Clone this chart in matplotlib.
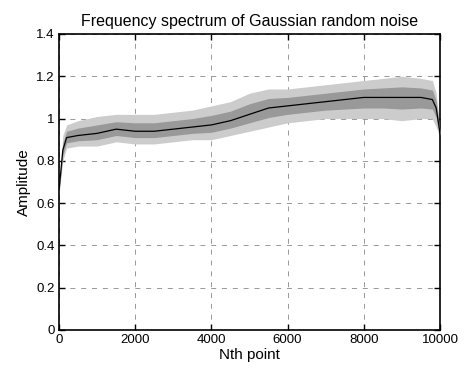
import matplotlib
matplotlib.use("Agg")
import matplotlib.pyplot as plt

# Envelope of the noisy spectrum
x_pts = [0, 100, 200, 500, 1000, 1500, 2000, 2500, 3000, 3500, 4000, 4500, 5000,
         5500, 6000, 6500, 7000, 7500, 8000, 8500, 9000, 9500, 9800, 9900, 10000]
mean_amp = [0.66, 0.85, 0.91, 0.92, 0.93, 0.95, 0.94, 0.94, 0.95, 0.96, 0.97, 0.99, 1.02,
            1.05, 1.06, 1.07, 1.08, 1.09, 1.10, 1.10, 1.10, 1.10, 1.09, 1.05, 0.93]
low_amp = [0.64, 0.80, 0.86, 0.87, 0.87, 0.89, 0.88, 0.88, 0.89, 0.90, 0.90, 0.92, 0.94,
           0.96, 0.98, 0.99, 1.00, 1.00, 1.00, 1.00, 0.99, 1.00, 1.00, 0.96, 0.91]
high_amp = [0.68, 0.92, 0.97, 0.99, 1.01, 1.02, 1.02, 1.02, 1.03, 1.04, 1.06, 1.08, 1.12,
            1.14, 1.14, 1.15, 1.16, 1.17, 1.18, 1.19, 1.20, 1.19, 1.18, 1.12, 0.95]

x_ticks = [0, 2000, 4000, 6000, 8000, 10000]
y_ticks = [0, 0.2, 0.4, 0.6, 0.8, 1, 1.2, 1.4]
y_ticklabels = ["0", "0.2", "0.4", "0.6", "0.8", "1", "1.2", "1.4"]

plt.rcParams['font.family'] = ['Liberation Sans', 'DejaVu Sans']

fig = plt.figure(figsize=(4.69, 3.74), dpi=100)
ax = fig.add_axes([59/469, 1 - 330/374, (440-59)/469, (330-34)/374])

ax.fill_between(x_pts, low_amp, high_amp, color='#cccccc', lw=0, zorder=2)
mid_low = [(m + l) / 2 for m, l in zip(mean_amp, low_amp)]
mid_high = [(m + h) / 2 for m, h in zip(mean_amp, high_amp)]
ax.fill_between(x_pts, mid_low, mid_high, color='#999999', lw=0, zorder=3)
ax.plot(x_pts, mean_amp, color='black', lw=0.9, zorder=4)

ax.set_xlim(0, 10000)
ax.set_ylim(0, 1.4)
ax.set_xticks(x_ticks)
ax.set_xticklabels([str(t) for t in x_ticks])
ax.set_yticks(y_ticks)
ax.set_yticklabels(y_ticklabels)
ax.tick_params(direction='in', length=4, width=1, labelsize=9.5, top=True, right=True,
               pad=3)
ax.grid(True, color='#888888', linestyle=(0, (6, 7)), lw=0.6, zorder=1)
for s in ax.spines.values():
    s.set_linewidth(1.2)

ax.set_title("Frequency spectrum of Gaussian random noise", fontsize=11.5, pad=6)
ax.set_xlabel("Nth point", fontsize=11, labelpad=1)
ax.set_ylabel("Amplitude", fontsize=11, labelpad=4)

fig.savefig("out.png", dpi=100)
